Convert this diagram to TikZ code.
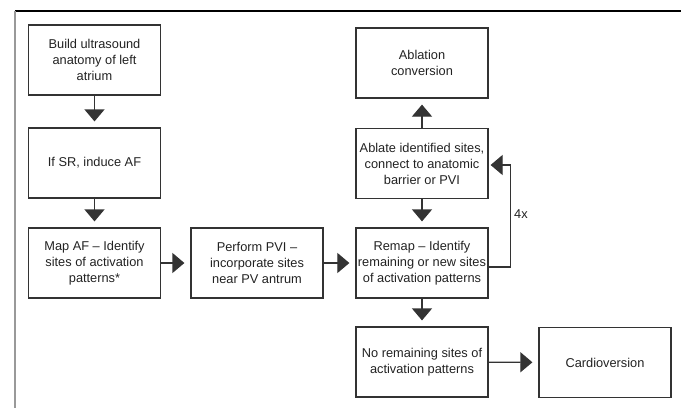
\documentclass[tikz,border=0pt]{standalone}
\usepackage{fontspec}
\setmainfont{Liberation Sans}
\usetikzlibrary{arrows.meta}
\definecolor{edge}{HTML}{333333}
\definecolor{txt}{HTML}{222222}
\definecolor{rule}{HTML}{999999}
\begin{document}
\begin{tikzpicture}[x=1pt,y=-1pt]

\tikzset{line/.style={draw=edge,line width=1.2pt}}
\tikzset{arrow/.style={line,-{Triangle[width=20pt,length=12pt]},shorten >=6pt}}
\tikzset{box/.style={line,rectangle,minimum width=132pt,minimum height=70pt,inner sep=2pt,
  align=center,text=txt,font=\fontsize{12.8}{16}\selectfont}}

\useasboundingbox (0,0) rectangle (681,408);
\draw[black,line width=1.5pt] (15,11) -- (681,11);
\draw[rule,line width=2pt] (15,11) -- (15,408);

\node[box] (build) at (94.5, 60) {Build ultrasound\\anatomy of left\\atrium};
\node[box] (induce) at (94.5, 163) {If SR, induce AF};
\node[box] (map) at (94.5, 263) {Map AF -- Identify\\sites of activation\\patterns*};
\node[box] (pvi) at (257, 263) {Perform PVI --\\incorporate sites\\near PV antrum};
\node[box] (remap) at (422, 263) {Remap -- Identify\\remaining or new sites\\of activation patterns};
\node[box] (ablate) at (422, 163.5) {Ablate identified sites,\\connect to anatomic\\barrier or PVI};
\node[box] (conv) at (422, 63) {Ablation\\conversion};
\node[box] (none) at (422, 362) {No remaining sites of\\activation patterns};
\node[box] (cardio) at (605, 362.5) {Cardioversion};

\path[arrow] (build) -- (induce);
\path[arrow] (induce) -- (map);
\path[arrow] (map) -- (pvi);
\path[arrow] (pvi) -- (remap);
\path[arrow] (ablate) -- (remap);
\path[arrow] (ablate) -- (conv);
\path[arrow] (remap) -- (none);
\path[arrow] (none) -- (cardio);
\path[arrow,shorten >=2pt] ([yshift=-4pt]remap.east) -- ++(22,0) |- ([yshift=-1.5pt]ablate.east);
\node[text=txt,font=\fontsize{12.8}{16}\selectfont] (loop) at (521, 214) {4x};

\end{tikzpicture}
\end{document}
